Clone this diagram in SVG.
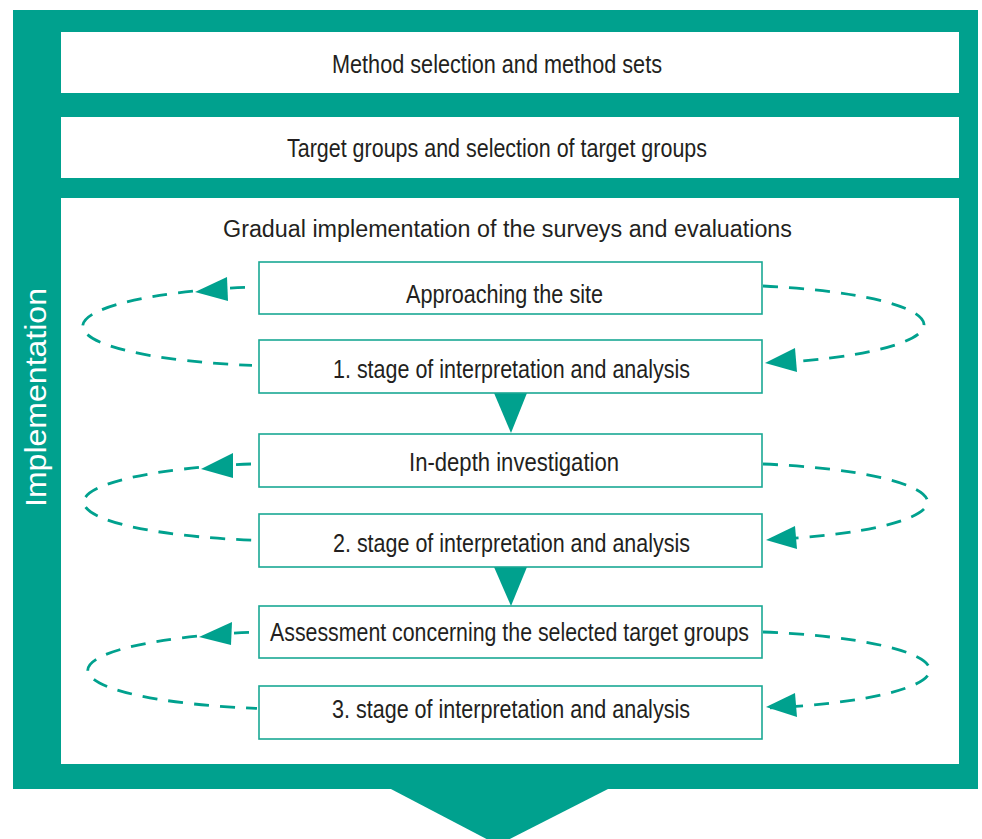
<svg xmlns="http://www.w3.org/2000/svg" width="982" height="839" viewBox="0 0 982 839">
<style>
.teal{fill:#00a18e}
.panel{fill:#ffffff}
.box{fill:#ffffff;stroke:#1aa894;stroke-width:1.6}
.t{font-family:"Liberation Sans Narrow","Liberation Sans",Arial,sans-serif;font-size:26px;fill:#231f20;text-anchor:middle}
.tr{font-family:"Liberation Sans",Arial,sans-serif;font-size:23px;fill:#231f20;text-anchor:middle}
.dash{fill:none;stroke:#00a18e;stroke-width:2.8;stroke-dasharray:15 11}
.ah{fill:#00a18e}
</style>
<rect id="frame" class="teal" x="13" y="10" width="965" height="779"/>
<polygon class="teal" points="389,788 610,788 498,845"/>
<text x="46" y="397.5" transform="rotate(-90 46 397.5)" font-family="Liberation Sans, Arial, sans-serif" font-size="30" fill="#ffffff" text-anchor="middle" textLength="219" lengthAdjust="spacingAndGlyphs">Implementation</text>
<g id="method">
<rect class="panel" x="61" y="32" width="898" height="61"/>
<text class="t" x="497" y="73" textLength="330" lengthAdjust="spacingAndGlyphs">Method selection and method sets</text>
</g>
<g id="target">
<rect class="panel" x="61" y="117" width="898" height="61"/>
<text class="t" x="497" y="157" textLength="420" lengthAdjust="spacingAndGlyphs">Target groups and selection of target groups</text>
</g>
<g id="gradual">
<rect class="panel" x="61" y="198" width="898" height="566"/>
<text class="tr" x="507.5" y="237" textLength="569" lengthAdjust="spacingAndGlyphs">Gradual implementation of the surveys and evaluations</text>
</g>
<g id="connectors">
<path class="dash" d="M245,287.4 A213,40 0 0 0 252,365.4"/>
<polygon class="ah" points="195,292 227,277 228,301"/>
<path class="dash" d="M763,286 A212,40 0 0 1 770,363.3"/>
<polygon class="ah" points="765,363 795,348 797,372"/>
<polygon class="ah" points="494,393 527,393 511,433"/>
<path class="dash" d="M251,464 A213,39 0 0 0 257,540.4"/>
<polygon class="ah" points="201,469 233,453 233,478"/>
<path class="dash" d="M763,464 A212,39 0 0 1 770,539.7"/>
<polygon class="ah" points="766,540 795,526 797,549"/>
<polygon class="ah" points="494,567 527,567 511,606"/>
<path class="dash" d="M249,632.4 A213,39 0 0 0 257,708.4"/>
<polygon class="ah" points="199,637 232,622 231,645"/>
<path class="dash" d="M763,632 A212,39 0 0 1 770,707.9"/>
<polygon class="ah" points="766,707 795,693 797,717"/>
</g>
<g id="approach">
<rect class="box" x="259" y="262" width="503" height="52"/>
<text class="t" x="504.5" y="303" textLength="197" lengthAdjust="spacingAndGlyphs">Approaching the site</text>
</g>
<g id="stage1">
<rect class="box" x="259" y="340" width="503" height="53"/>
<text class="t" x="511.5" y="378" textLength="357" lengthAdjust="spacingAndGlyphs">1. stage of interpretation and analysis</text>
</g>
<g id="indepth">
<rect class="box" x="259" y="434" width="503" height="53"/>
<text class="t" x="514" y="471" textLength="210" lengthAdjust="spacingAndGlyphs">In-depth investigation</text>
</g>
<g id="stage2">
<rect class="box" x="259" y="514" width="503" height="53"/>
<text class="t" x="511.5" y="552" textLength="357" lengthAdjust="spacingAndGlyphs">2. stage of interpretation and analysis</text>
</g>
<g id="assessment">
<rect class="box" x="259" y="606" width="503" height="52"/>
<text class="t" x="509.5" y="640.5" textLength="479" lengthAdjust="spacingAndGlyphs">Assessment concerning the selected target groups</text>
</g>
<g id="stage3">
<rect class="box" x="259" y="686" width="503" height="53"/>
<text class="t" x="511" y="718" textLength="358" lengthAdjust="spacingAndGlyphs">3. stage of interpretation and analysis</text>
</g>
</svg>
